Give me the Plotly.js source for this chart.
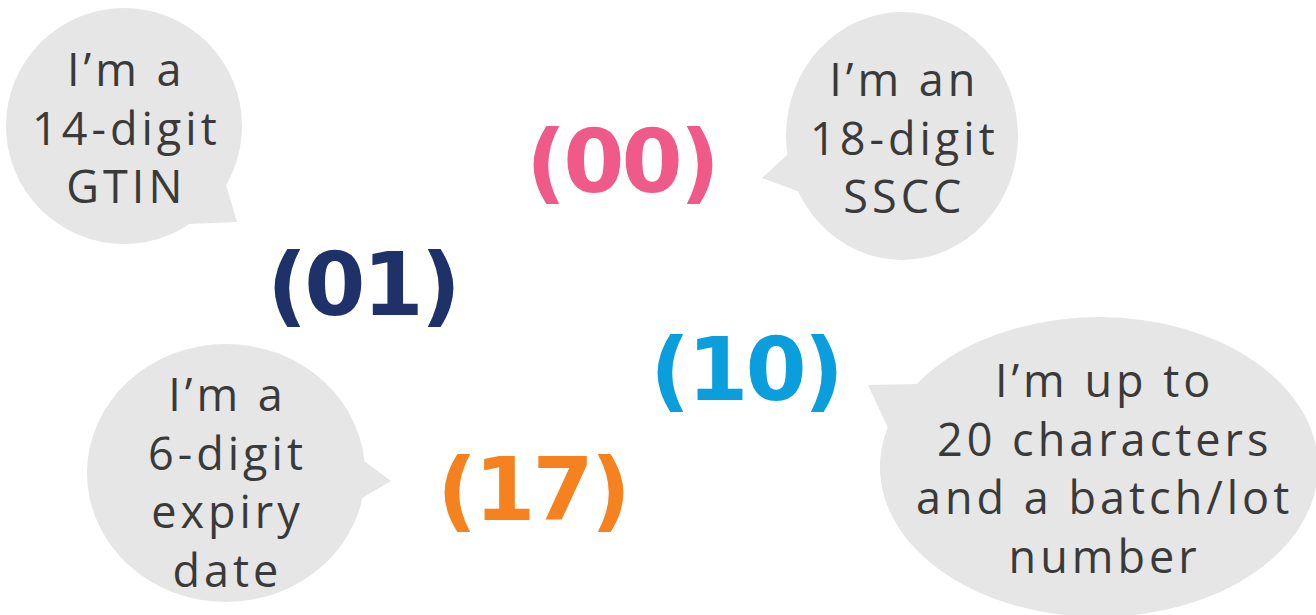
<!DOCTYPE html>
<html>
<head>
<meta charset="utf-8">
<script src="https://cdn.plot.ly/plotly-3.0.1.min.js"></script>
<style>
html,body{margin:0;padding:0;background:#fff;}
#chart{width:1316px;height:615px;}
.annotation[data-index="0"] text,.annotation[data-index="1"] text,
.annotation[data-index="2"] text,.annotation[data-index="3"] text{letter-spacing:4px;}
.annotation[data-index="4"] text,.annotation[data-index="5"] text,
.annotation[data-index="6"] text,.annotation[data-index="7"] text{letter-spacing:-3px;}
</style>
</head>
<body>
<div id="chart"></div>
<script>
// Content
const codes = ["(00)", "(01)", "(10)", "(17)"];
const codeColors = ["#ef5a8a", "#1f3169", "#0a9fdc", "#f5821f"];
const bubbleTexts = [
  "I’m a<br>14-digit<br>GTIN",
  "I’m an<br>18-digit<br>SSCC",
  "I’m a<br>6-digit<br>expiry<br>date",
  "I’m up to<br>20 characters<br>and a batch/lot<br>number"
];

// Layout placement (pixel space of the 1316x615 canvas)
const codeX = [621, 362, 745, 532];
const codeY = [161, 284, 369, 489];
const bubbleCX = [124, 902, 226, 1099];
const bubbleCY = [126, 136, 473, 467];
const bubbleRX = [118, 116, 139, 219];
const bubbleRY = [118, 124, 129, 150];
const textX = [126, 904, 227, 1104];
const textY = [127, 137, 481, 467];
const tailTip = [[237, 222], [762, 178], [391, 481], [868, 385]];
const tailBaseA = [[224, 178], [800, 143], [352, 452], [920, 384]];
const tailBaseB = [[188, 224], [808, 195], [350, 505], [902, 458]];

const shapes = [];
const annotations = [];
for (let i = 0; i < bubbleTexts.length; i++) {
  shapes.push({
    type: "circle", xref: "x", yref: "y",
    x0: bubbleCX[i] - bubbleRX[i], x1: bubbleCX[i] + bubbleRX[i],
    y0: bubbleCY[i] - bubbleRY[i], y1: bubbleCY[i] + bubbleRY[i],
    fillcolor: "#e6e6e6", line: {width: 0}, layer: "below"
  });
  const a = tailBaseA[i], t = tailTip[i], b = tailBaseB[i];
  shapes.push({
    type: "path", xref: "x", yref: "y",
    path: `M ${a[0]} ${a[1]} L ${t[0]} ${t[1]} L ${b[0]} ${b[1]} Z`,
    fillcolor: "#e6e6e6", line: {width: 0}, layer: "below"
  });
  annotations.push({
    x: textX[i], y: textY[i], xref: "x", yref: "y",
    text: bubbleTexts[i], showarrow: false, align: "center",
    xanchor: "center", yanchor: "middle",
    font: {family: "Open Sans, sans-serif", size: 45, color: "#3a3a3a"}
  });
}
for (let i = 0; i < codes.length; i++) {
  annotations.push({
    x: codeX[i], y: codeY[i], xref: "x", yref: "y",
    text: "<b>" + codes[i] + "</b>", showarrow: false,
    xanchor: "center", yanchor: "middle",
    font: {family: "DejaVu Sans, sans-serif", size: 88, color: codeColors[i]}
  });
}

const layout = {
  width: 1316, height: 615,
  margin: {l: 0, r: 0, t: 0, b: 0, pad: 0},
  paper_bgcolor: "#ffffff", plot_bgcolor: "#ffffff",
  xaxis: {range: [0, 1316], visible: false, fixedrange: true},
  yaxis: {range: [615, 0], visible: false, fixedrange: true},
  shapes: shapes, annotations: annotations, showlegend: false
};
Plotly.newPlot("chart", [], layout, {displayModeBar: false, staticPlot: true});
</script>
</body>
</html>
